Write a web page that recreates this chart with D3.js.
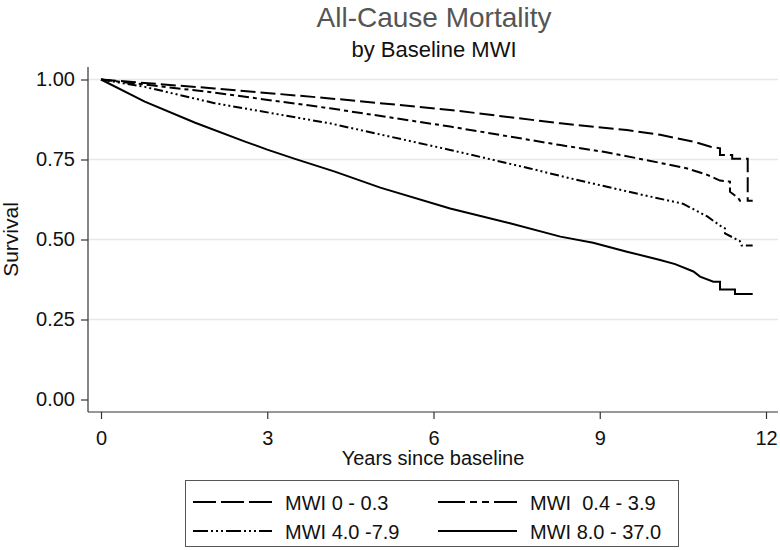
<!DOCTYPE html>
<html>
<head>
<meta charset="utf-8">
<script src="https://cdn.jsdelivr.net/npm/d3@7"></script>
<style>
    body { margin: 0; background: #fff; }
    svg { font-family: "Liberation Sans", Arial, sans-serif; }
</style>
</head>
<body>
<div id="chart"></div>
<script>
// Kaplan-Meier survival by baseline MWI group: [years, survival]
const mwiLow = [
    [0, 1.0], [2.05, 0.972], [4.13, 0.941], [6.3, 0.905], [8.29, 0.863], [9.49, 0.842],
    [10.09, 0.827], [10.69, 0.806], [11.0, 0.790], [11.17, 0.785], [11.17, 0.764],
    [11.39, 0.764], [11.39, 0.752], [11.67, 0.752], [11.67, 0.621], [11.76, 0.621]
];
const mwiMid = [
    [0, 1.0], [2.05, 0.959], [4.13, 0.910], [6.3, 0.853], [8.29, 0.795], [9.07, 0.774],
    [9.85, 0.748], [10.58, 0.722], [10.94, 0.702], [11.17, 0.684], [11.35, 0.681],
    [11.35, 0.649], [11.5, 0.630], [11.53, 0.621], [11.62, 0.621]
];
const mwiHigh = [
    [0, 1.0], [0.79, 0.977], [2.05, 0.926], [4.13, 0.863], [6.3, 0.780], [7.74, 0.722],
    [8.47, 0.691], [9.78, 0.639], [10.5, 0.612], [10.94, 0.572], [11.2, 0.540],
    [11.26, 0.535], [11.26, 0.519], [11.53, 0.495], [11.56, 0.481], [11.76, 0.481]
];
const mwiTop = [
    [0, 1.0], [0.79, 0.931], [1.70, 0.865], [2.60, 0.806], [3.0, 0.781], [3.5, 0.752],
    [4.22, 0.712], [5.04, 0.662], [6.3, 0.597], [7.38, 0.551], [8.29, 0.509], [8.88, 0.490],
    [9.49, 0.462], [10.09, 0.436], [10.36, 0.423], [10.69, 0.400], [10.81, 0.384],
    [11.05, 0.368], [11.17, 0.368], [11.17, 0.344], [11.44, 0.344], [11.44, 0.330],
    [11.76, 0.330]
];

const seriesNames = ["MWI 0 - 0.3", "MWI  0.4 - 3.9", "MWI 4.0 -7.9", "MWI 8.0 - 37.0"];
const seriesData = [mwiLow, mwiMid, mwiHigh, mwiTop];
const xTicks = [0, 3, 6, 9, 12];
const yTicks = [0, 0.25, 0.5, 0.75, 1];

// dash patterns for the plot and the (longer) legend samples
const dashPlot = ["15,5", "11,4,4,4", "9,3,2,3,2,3,2,3", null];
const dashKey = ["23,5", "27,5,7,5,7,5", "15,3,2,3,2,3,2,3", null];

const W = 780, H = 550;
const plot = { left: 88, right: 778, top: 67, bottom: 412 };

const svg = d3.select("#chart").append("svg")
    .attr("width", W)
    .attr("height", H);

const x = d3.scaleLinear().domain([0, 12]).range([101, 766]);
const y = d3.scaleLinear().domain([0, 1]).range([399.5, 79.5]);

// titles
svg.append("text")
    .attr("x", 434).attr("y", 27)
    .attr("text-anchor", "middle")
    .attr("fill", "#555")
    .style("font-size", "28px")
    .text("All-Cause Mortality");

svg.append("text")
    .attr("x", 434).attr("y", 57)
    .attr("text-anchor", "middle")
    .attr("fill", "#111")
    .style("font-size", "22px")
    .text("by Baseline MWI");

// gridlines
svg.append("g")
    .selectAll("line")
    .data(yTicks.filter(d => d > 0))
    .enter()
    .append("line")
    .attr("x1", plot.left)
    .attr("x2", plot.right)
    .attr("y1", d => y(d))
    .attr("y2", d => y(d))
    .attr("stroke", "#e8e8e8")
    .attr("stroke-width", 1.5);

// axes
const yAxis = svg.append("g")
    .attr("transform", `translate(${plot.left},0)`)
    .call(d3.axisLeft(y).tickValues(yTicks).tickFormat(d3.format(".2f")).tickSize(7).tickPadding(6));

const xAxis = svg.append("g")
    .attr("transform", `translate(0,${plot.bottom})`)
    .call(d3.axisBottom(x).tickValues(xTicks).tickSize(7).tickPadding(12));

[yAxis, xAxis].forEach(a => {
    a.select(".domain").remove();
    a.selectAll(".tick line").attr("stroke", "#333").attr("stroke-width", 1.2);
    a.selectAll(".tick text")
        .attr("fill", "#111")
        .style("font-size", "20px")
        .style("font-family", "'Liberation Sans', Arial, sans-serif");
});

svg.append("line")
    .attr("x1", plot.left).attr("x2", plot.left)
    .attr("y1", plot.top).attr("y2", plot.bottom)
    .attr("stroke", "#333").attr("stroke-width", 1.2);

svg.append("line")
    .attr("x1", plot.left).attr("x2", plot.right)
    .attr("y1", plot.bottom).attr("y2", plot.bottom)
    .attr("stroke", "#333").attr("stroke-width", 1.2);

// axis titles
svg.append("text")
    .attr("transform", "translate(18,239.5) rotate(-90)")
    .attr("text-anchor", "middle")
    .attr("fill", "#111")
    .style("font-size", "21px")
    .text("Survival");

svg.append("text")
    .attr("x", 433).attr("y", 465)
    .attr("text-anchor", "middle")
    .attr("fill", "#111")
    .style("font-size", "20px")
    .text("Years since baseline");

// survival curves
const line = d3.line()
    .x(d => x(d[0]))
    .y(d => y(d[1]));

svg.append("g")
    .selectAll("path")
    .data(seriesData)
    .enter()
    .append("path")
    .attr("d", line)
    .attr("fill", "none")
    .attr("stroke", "#000")
    .attr("stroke-width", 2)
    .attr("stroke-dasharray", (d, i) => dashPlot[i]);

// legend
svg.append("rect")
    .attr("x", 185.5).attr("y", 480.5)
    .attr("width", 493).attr("height", 66)
    .attr("fill", "#fff")
    .attr("stroke", "#555")
    .attr("stroke-width", 1);

const key = svg.append("g")
    .selectAll("g")
    .data(seriesNames)
    .enter()
    .append("g")
    .attr("transform", (d, i) => `translate(${193 + (i % 2) * 245},${502 + Math.floor(i / 2) * 29})`);

key.append("line")
    .attr("x1", 0).attr("x2", 79)
    .attr("stroke", "#000")
    .attr("stroke-width", 2)
    .attr("stroke-dasharray", (d, i) => dashKey[i]);

key.append("text")
    .attr("x", 92).attr("y", 7.5)
    .attr("fill", "#111")
    .style("font-size", "20px")
    .style("white-space", "pre")
    .text(d => d);
</script>
</body>
</html>
